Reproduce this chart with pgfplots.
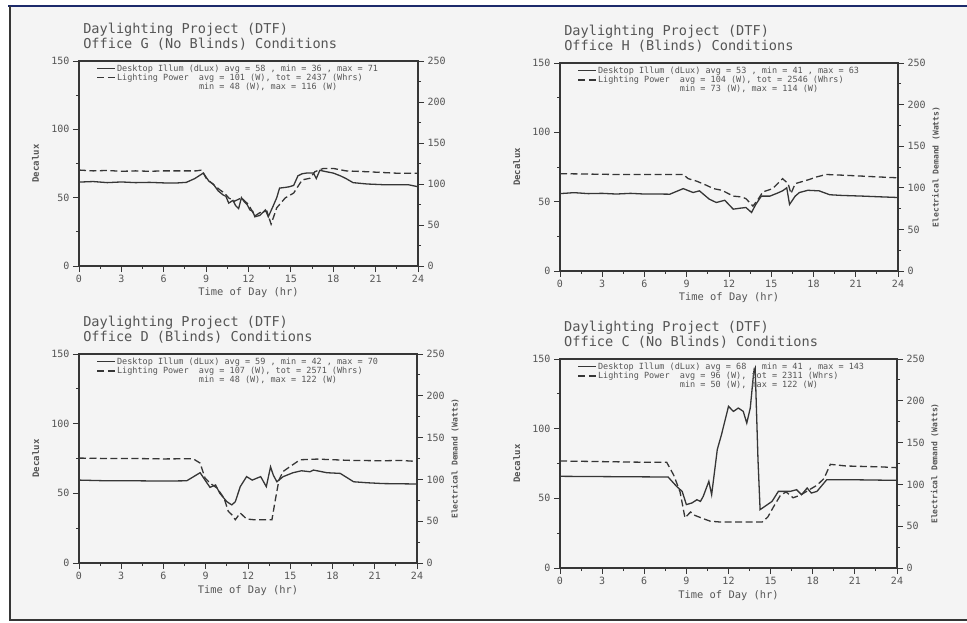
\documentclass[border=0pt]{standalone}
\usepackage{fontspec}
\setmonofont{DejaVu Sans Mono}
\usepackage{pgfplots}
\pgfplotsset{compat=1.18}

\definecolor{ink}{HTML}{363636}
\definecolor{txt}{HTML}{555555}
\definecolor{paper}{HTML}{F4F4F4}
\definecolor{navy}{HTML}{1C2A6B}

\pgfplotsset{
  base/.style={
    scale only axis, xmin=0, xmax=24,
    axis line style={ink, line width=1.2pt},
    tick style={ink, line width=0.9pt},
    tick align=outside, major tick length=6pt, minor tick length=3pt,
    /pgf/number format/assume math mode=true,
    ticklabel style={font=\ttfamily\fontsize{10}{10}\selectfont, text=txt},
  },
  leftax/.style={
    base, ymin=0, ymax=150,
    xtick={0,3,...,24}, minor x tick num=1,
    ytick={0,50,100,150}, minor y tick num=1,
    xtick pos=left, ytick pos=left,
    xlabel={Time of Day (hr)}, ylabel={Decalux},
    xlabel style={at={(axis description cs:0.5,-0.13)}, anchor=center,
      font=\ttfamily\fontsize{10.4}{10}\selectfont, text=txt},
    ylabel style={at={(axis description cs:-0.128,0.5)}, anchor=center,
      font=\ttfamily\bfseries\fontsize{9}{9}\selectfont, text=txt},
    title style={at={(axis description cs:0.012,1)}, anchor=south west,
      align=left, inner sep=0pt, yshift=5pt,
      font=\ttfamily\fontsize{13.6}{13}\selectfont, text=txt},
    legend style={draw=none, fill=none, at={(axis description cs:0.052,0.988)},
      anchor=north west, inner sep=0pt, row sep=-0.8pt,
      font=\ttfamily\fontsize{8.5}{8.5}\selectfont, text=txt,
      nodes={inner sep=1pt}},
    legend cell align=left,
    legend image code/.code={\draw[##1] (0pt,0pt) -- (18pt,0pt);},
  },
  rightax/.style={
    base, ymin=0, ymax=250, hide x axis, axis y line*=right,
    ytick={0,50,...,250}, minor y tick num=1,
    ylabel style={at={(axis description cs:1.112,0.5)}, anchor=center,
      font=\ttfamily\bfseries\fontsize{8}{8}\selectfont, text=txt},
  },
  solidln/.style={ink, line width=1.3pt, no markers, solid},
  dashln/.style={ink, line width=1.3pt, no markers, dash pattern=on 7pt off 3.5pt},
}
\newcommand{\note}[1]{\node[anchor=west, font=\ttfamily\bfseries\fontsize{8}{8}\selectfont, text=txt]
  at (axis description cs:0.0,-0.142) {#1};}

\begin{document}
\begin{tikzpicture}[x=1pt,y=1pt]
\path[use as bounding box] (0,0) rectangle (967,622);
\fill[white] (0,0) rectangle (967,622);
\fill[paper] (10,2) rectangle (967,616);
\draw[navy, line width=2.5pt] (8,616) -- (967,616);
\draw[ink, line width=1.4pt] (10,616) -- (10,2) -- (967,2);

% ---------------- Office G (top left)
\begin{axis}[leftax, at={(79pt,356pt)}, anchor=south west, width=339pt, height=205pt,
  title={Daylighting Project (DTF)\\Office G (No Blinds) Conditions}]
\addplot[solidln] coordinates {
  (0,61.4) (1,61.8) (2,61.0) (3,61.5) (4,61.0) (5,61.2) (6,60.8) (7,60.8) (7.6,61.2)
  (8.2,64) (8.8,68) (9.0,65) (9.2,62) (9.5,60) (9.85,55) (10.2,52) (10.4,51) (10.6,46)
  (10.9,48) (11.1,44) (11.3,42) (11.5,50) (11.7,47) (11.9,45) (12.1,41) (12.3,40)
  (12.45,36) (12.8,37) (13.0,39) (13.2,41) (13.4,36) (13.75,44) (14.0,50) (14.2,57)
  (14.6,57.5) (14.9,58) (15.2,59) (15.5,66) (15.8,67.5) (16.1,68) (16.6,68) (16.8,64)
  (17.05,70) (17.5,69) (18.0,68) (18.5,66) (18.9,64) (19.4,61) (20.4,60) (21.5,59.5)
  (22.7,59.5) (23.3,59.5) (24,58)
};
\addlegendentry{Desktop Illum (dLux) avg = 58 , min = 36 , max = 71}
\addlegendimage{dashln}
\addlegendentry{Lighting Power~~avg = 101 (W), tot = 2437 (Whrs)}
\addlegendimage{empty legend}
\addlegendentry{\phantom{Lighting Power~~}min = 48 (W), max = 116 (W)}
\note{94286 0.25}
\end{axis}
\begin{axis}[rightax, at={(79pt,356pt)}, anchor=south west, width=339pt, height=205pt]
\addplot[dashln] coordinates {
  (0,117) (1,116) (2,116.5) (3,115.5) (4,116) (5,115.5) (6,116) (7,116) (8.3,116)
  (8.7,117) (9.0,107) (9.4,101) (9.96,93) (10.3,89) (10.6,83) (11.0,79) (11.5,83)
  (12.0,75) (12.45,61) (12.8,65) (13.3,67) (13.6,51) (14.0,71) (14.6,83) (15.2,89)
  (15.8,105) (16.35,107) (16.7,115) (17.3,119) (18.0,119) (18.9,116) (20.35,115)
  (21.5,114) (22.7,113) (24,113)
};
\end{axis}

% ---------------- Office H (top right)
\begin{axis}[leftax, at={(560pt,351pt)}, anchor=south west, width=338pt, height=208pt,
  title={Daylighting Project (DTF)\\Office H (Blinds) Conditions}]
\addplot[solidln] coordinates {
  (0,55.8) (1,56.5) (2,55.8) (3,56) (4,55.5) (5,56) (6,55.5) (7,55.5) (7.8,55.4)
  (8.75,59.4) (9.45,56.6) (9.9,57.8) (10.6,51.8) (11.1,49.4) (11.7,51) (12.3,44.6)
  (12.8,45.3) (13.2,45.8) (13.6,42.2) (13.9,48) (14.3,54) (14.9,54) (15.4,56)
  (15.8,57.8) (16.1,60) (16.3,48) (16.7,54) (17.0,56.6) (17.6,58.2) (18.4,57.8)
  (19.15,55) (20,54.5) (21.5,54) (22.7,53.5) (24,53)
};
\addlegendentry{Desktop Illum (dLux) avg = 53 , min = 41 , max = 63}
\addlegendimage{dashln}
\addlegendentry{Lighting Power~~avg = 104 (W), tot = 2546 (Whrs)}
\addlegendimage{empty legend}
\addlegendentry{\phantom{Lighting Power~~}min = 73 (W), max = 114 (W)}
\note{94286 3.25}
\end{axis}
\begin{axis}[rightax, at={(560pt,351pt)}, anchor=south west, width=338pt, height=208pt,
  ylabel={Electrical Demand (Watts)}]
\addplot[dashln] coordinates {
  (0,117) (2,116.5) (4,116) (6,116) (8.75,116) (9.1,111) (9.7,108) (10.4,103)
  (10.9,99) (11.5,97) (12.3,90) (12.9,89) (13.2,87) (13.7,78) (14.1,87) (14.4,95)
  (15.1,99) (15.8,111) (16.2,105) (16.4,93) (16.7,105) (17.1,107) (17.7,110)
  (18.2,113) (18.9,116) (20.3,115) (22.7,113) (24,112)
};
\end{axis}

% ---------------- Office D (bottom left)
\begin{axis}[leftax, at={(79pt,59pt)}, anchor=south west, width=338pt, height=209pt,
  title={Daylighting Project (DTF)\\Office D (Blinds) Conditions}]
\addplot[solidln] coordinates {
  (0,59.5) (2,59) (4,59) (6,58.8) (7.65,59) (8.6,64.8) (8.95,59.5) (9.3,54.3)
  (9.7,56) (10.0,50) (10.5,44) (10.85,41.7) (11.1,44) (11.45,54.8) (11.9,62)
  (12.3,59.5) (12.9,62) (13.3,54.8) (13.6,69) (13.8,63) (14.05,58.3) (14.5,62)
  (15.2,64.8) (15.8,66.2) (16.4,65.5) (16.65,66.7) (17.6,64.8) (18.55,64.3)
  (19.5,58.3) (20.45,57.6) (21.6,57) (24,56.7)
};
\addlegendentry{Desktop Illum (dLux) avg = 59 , min = 42 , max = 70}
\addlegendimage{dashln}
\addlegendentry{Lighting Power~~avg = 107 (W), tot = 2571 (Whrs)}
\addlegendimage{empty legend}
\addlegendentry{\phantom{Lighting Power~~}min = 48 (W), max = 122 (W)}
\note{94284 3.25}
\end{axis}
\begin{axis}[rightax, at={(79pt,59pt)}, anchor=south west, width=338pt, height=209pt,
  ylabel={Electrical Demand (Watts)}]
\addplot[dashln] coordinates {
  (0,125.5) (2,125) (4,125) (6,124.5) (8.1,124.7) (8.6,119.5) (8.95,101.6)
  (9.3,95.6) (9.8,89.6) (10.3,77.7) (10.6,61.8) (10.85,57.8) (11.1,51.8)
  (11.45,59.8) (11.9,52.6) (12.4,51.8) (13.7,51.8) (13.9,71.7) (14.2,99.6)
  (14.5,109.6) (15.0,115.5) (15.7,123.5) (16.9,124.3) (19.3,122.7) (21.6,122.3)
  (22.8,122.7) (24,121.5)
};
\end{axis}

% ---------------- Office C (bottom right)
\begin{axis}[leftax, at={(560pt,54pt)}, anchor=south west, width=337pt, height=209pt,
  title={Daylighting Project (DTF)\\Office C (No Blinds) Conditions}]
\addplot[solidln] coordinates {
  (0,65.8) (7.7,65.3) (8.3,58.6) (8.7,55) (9.0,45.5) (9.4,46.7) (9.75,49) (10.0,47.8)
  (10.2,51.4) (10.6,62.2) (10.8,52.6) (11.2,85) (11.5,95.7) (12.0,116) (12.35,112.4)
  (12.7,114.8) (13.05,112.4) (13.3,104) (13.55,114.8) (13.8,141) (13.9,143.5)
  (14.1,77.8) (14.25,41.9) (14.6,44.3) (15.1,47.8) (15.55,55) (16.4,55) (16.85,56.2)
  (17.2,52.6) (17.6,57.4) (17.9,53.8) (18.3,55) (19.0,63.4) (20.4,63.4) (24,62.9)
};
\addlegendentry{Desktop Illum (dLux) avg = 68 , min = 41 , max = 143}
\addlegendimage{dashln}
\addlegendentry{Lighting Power~~avg = 96 (W), tot = 2311 (Whrs)}
\addlegendimage{empty legend}
\addlegendentry{\phantom{Lighting Power~~}min = 50 (W), max = 122 (W)}
\note{94286 0.25}
\end{axis}
\begin{axis}[rightax, at={(560pt,54pt)}, anchor=south west, width=337pt, height=209pt,
  ylabel={Electrical Demand (Watts)}]
\addplot[dashln] coordinates {
  (0,128) (2,127.5) (4,127) (6,126.5) (7.6,126.4) (8.1,111) (8.55,91) (8.9,60)
  (9.3,67) (9.6,63) (10.2,59) (10.7,56) (11.4,55) (14.4,55) (14.8,61) (15.2,73)
  (15.7,87) (16.1,91) (16.6,84) (17.1,87) (17.7,93) (18.3,99) (18.8,107) (19.25,124)
  (20.4,122) (22.8,121) (24,120)
};
\end{axis}
\end{tikzpicture}
\end{document}
